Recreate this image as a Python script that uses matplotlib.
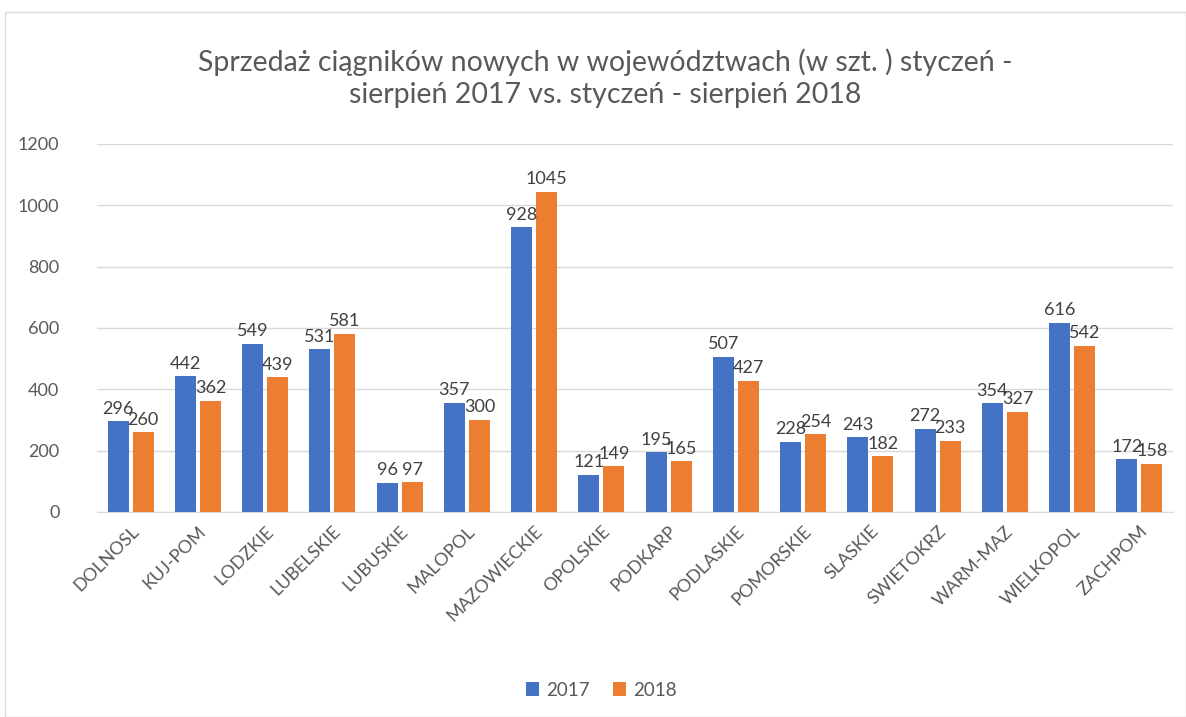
import matplotlib
matplotlib.use("Agg")
import matplotlib.pyplot as plt
import numpy as np
from matplotlib.patches import Rectangle

categories = ["DOLNOSL", "KUJ-POM", "LODZKIE", "LUBELSKIE", "LUBUSKIE", "MALOPOL",
              "MAZOWIECKIE", "OPOLSKIE", "PODKARP", "PODLASKIE", "POMORSKIE", "SLASKIE",
              "SWIETOKRZ", "WARM-MAZ", "WIELKOPOL", "ZACHPOM"]
values_2017 = [296, 442, 549, 531, 96, 357, 928, 121, 195, 507, 228, 243, 272, 354, 616, 172]
values_2018 = [260, 362, 439, 581, 97, 300, 1045, 149, 165, 427, 254, 182, 233, 327, 542, 158]
series_names = ["2017", "2018"]
yticks = [0, 200, 400, 600, 800, 1000, 1200]
title = "Sprzedaż ciągników nowych w województwach (w szt. ) styczeń -\nsierpień 2017 vs. styczeń - sierpień 2018"

plt.rcParams['font.family'] = ['Lato', 'DejaVu Sans']
grey = "#595959"
blue = "#4472C4"
orange = "#ED7D31"

fig = plt.figure(figsize=(11.86, 7.17), dpi=100)
fig.patches.append(Rectangle((5/1186, 0), 1 - 5/1186, 1 - 12/717, transform=fig.transFigure,
                             fill=False, edgecolor="#D9D9D9", linewidth=1.0))
ax = fig.add_axes([97/1186, 1 - 512/717, 1076/1186, 368/717])

x = np.arange(len(categories))
w = 0.31
off = 0.186
b1 = ax.bar(x - off, values_2017, w, color=blue, label=series_names[0], zorder=3)
b2 = ax.bar(x + off, values_2018, w, color=orange, label=series_names[1], zorder=3)

for bars in (b1, b2):
    for r in bars:
        ax.text(r.get_x() + r.get_width() / 2, r.get_height() + 15, f"{int(r.get_height())}",
                ha="center", va="bottom", fontsize=13, color="#404040", zorder=4)

ax.set_xlim(-0.5, len(categories) - 0.5)
ax.set_ylim(0, 1200)
ax.set_yticks(yticks)
ax.yaxis.grid(True, color="#D9D9D9", linewidth=1.0, zorder=0)
ax.set_axisbelow(True)
for s in ["top", "right", "left"]:
    ax.spines[s].set_visible(False)
ax.spines["bottom"].set_color("#D9D9D9")
ax.tick_params(axis="both", length=0, colors=grey, labelsize=13)
ax.tick_params(axis="y", pad=27)
ax.set_xticks(x)
ax.set_xticklabels(categories, rotation=45, ha="right", rotation_mode="anchor")
ax.tick_params(axis="x", pad=8)

fig.text(0.51, 1 - 78/717, title, ha="center", va="center", fontsize=20.5, color=grey,
         linespacing=1.3)

fig.legend(handles=[b1, b2], labels=series_names, loc="center", bbox_to_anchor=(0.507, 1 - 690/717),
           ncol=2, frameon=False, fontsize=13.5, handlelength=0.7, handleheight=0.7,
           handletextpad=0.4, columnspacing=1.2, labelcolor=grey)

fig.savefig("out.png", dpi=100)
